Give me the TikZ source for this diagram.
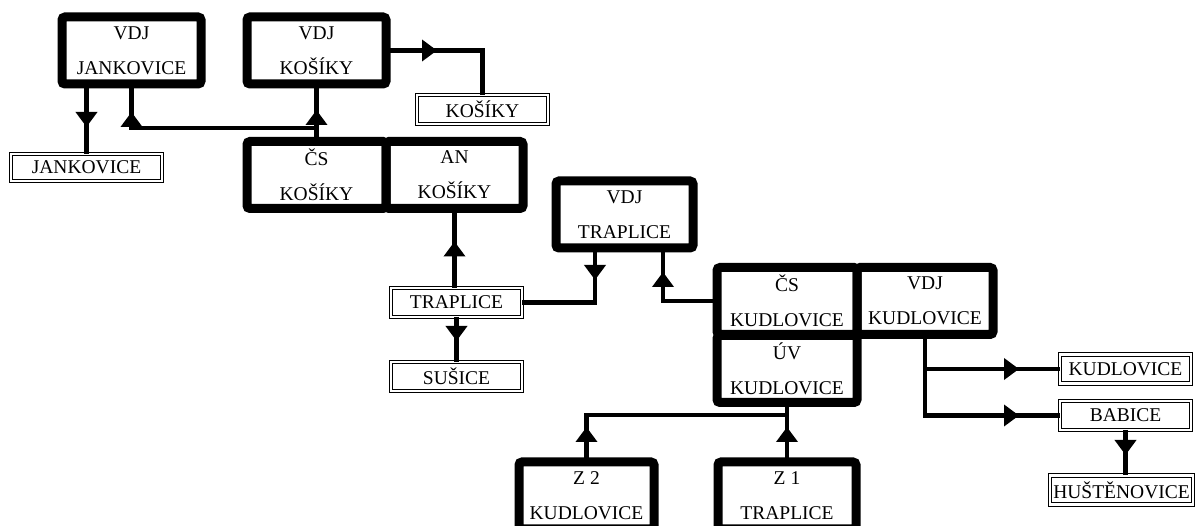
\documentclass[tikz,border=0pt]{standalone}
\usepackage{fontspec}
\setmainfont{Liberation Serif}
\usetikzlibrary{arrows.meta,decorations.markings}
\tikzset{
  station/.style={draw,rectangle,line width=9bp,rounded corners=3bp,inner sep=0pt,outer sep=0pt,
    minimum width=139bp,minimum height=67bp,align=center},
  place/.style={draw,rectangle,double,double distance=2.4bp,line width=0.9bp,inner sep=0pt,outer sep=0pt,
    minimum width=131bp,minimum height=29bp},
  flow/.style={line width=4.5bp,decoration={markings,
    mark=at position #1 with {\arrow{Triangle[length=15bp,width=21bp]}}},postaction={decorate}}
}
\begin{document}
\begin{tikzpicture}[font=\fontsize{19.5bp}{35bp}\selectfont]
		%%
  \useasboundingbox (0bp,0bp) rectangle (1195bp,526bp);
  \node (vdjJ) at (131.5bp,475.5bp) [station] {VDJ\\JANKOVICE};
  \node (vdjK) at (316.5bp,475.5bp) [station] {VDJ\\KOŠÍKY};
  \node (csK) at (316.5bp,351bp) [station] {ČS\\KOŠÍKY};
  \node (anK) at (454.5bp,351bp) [station,minimum width=137bp] {AN\\KOŠÍKY};
  \node (vdjT) at (624.5bp,311.5bp) [station,minimum width=137bp] {VDJ\\TRAPLICE};
  \node (csKu) at (787bp,225bp) [station,minimum width=140bp] {ČS\\KUDLOVICE};
  \node (vdjKu) at (925bp,225bp) [station,minimum width=136bp] {VDJ\\KUDLOVICE};
  \node (uvKu) at (787bp,157bp) [station,minimum width=140bp] {ÚV\\KUDLOVICE};
  \node (z2) at (586.5bp,30.5bp) [station,minimum width=135bp] {Z 2\\KUDLOVICE};
  \node (z1) at (787bp,30.5bp) [station,minimum width=138bp] {Z 1\\TRAPLICE};
  \node (jank) at (86.5bp,358.5bp) [place,minimum width=151bp,minimum height=27bp] {JANKOVICE};
  \node (kos) at (482.5bp,416.5bp) [place] {KOŠÍKY};
  \node (trap) at (456.5bp,223.5bp) [place] {TRAPLICE};
  \node (susice) at (456.5bp,149.5bp) [place] {SUŠICE};
  \node (kudl) at (1125.5bp,157bp) [place] {KUDLOVICE};
  \node (babice) at (1125.5bp,110.5bp) [place] {BABICE};
  \node (hust) at (1121.5bp,36bp) [place,minimum width=143bp] {HUŠTĚNOVICE};
  \coordinate (jK) at (316.5bp,398bp);
  \coordinate (jU) at (787bp,111bp);
  \draw [flow=43bp] (vdjJ.south -| jank.north) -- (jank.north);
  \draw [flow=-26bp] (csK.north) -- (vdjK.south);
  \draw [flow=-28bp] (jK) -| (vdjJ.south);
  \draw [flow=51bp] (vdjK.east) -| (kos.north);
  \draw [flow=-33bp] (trap.north -| anK.south) -- (anK.south);
  \draw [flow=24bp] (trap.south) -- (susice.north);
  \draw [flow=32bp] ([xshift=-29.5bp]vdjT.south) |- (trap.east);
  \draw [flow=-24bp] (csKu.west) -| ([xshift=38.5bp]vdjT.south);
  \draw [flow=-41bp] (vdjKu.south) |- (kudl.west);
  \draw [flow=-41bp] (vdjKu.south) |- (babice.west);
  \draw [flow=25bp] (babice.south) -- (babice.south |- hust.north);
  \draw [flow=35bp] (z1.north) -- (uvKu.south);
  \draw [flow=35bp] (z2.north) |- (jU);
		%
\end{tikzpicture}
\end{document}
